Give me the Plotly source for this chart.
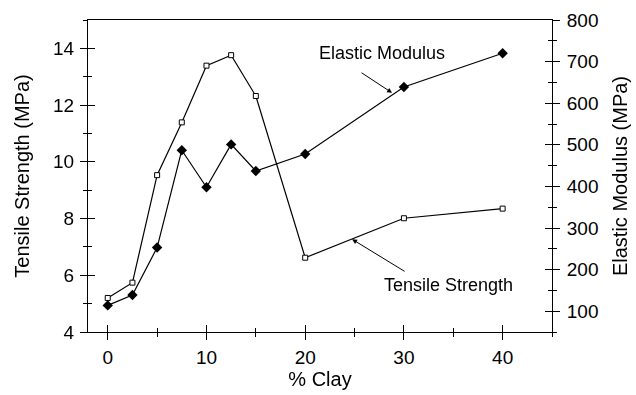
import plotly.graph_objects as go

clay = [0, 2.5, 5, 7.5, 10, 12.5, 15, 20, 30, 40]
tensile_strength = [5.2, 5.74, 9.53, 11.39, 13.39, 13.76, 12.32, 6.62, 8.01, 8.35]
elastic_modulus = [114, 139, 253, 487, 398, 501, 437, 478, 639, 720]

x_range = [-2, 45]
ts_range = [4, 15]
em_range = [50, 800]

FONT = "Liberation Sans, Arial, Helvetica, sans-serif"

fig = go.Figure()

fig.add_trace(go.Scatter(
    x=clay, y=tensile_strength, mode="lines+markers", name="Tensile Strength",
    line=dict(color="black", width=1.2),
    marker=dict(symbol="square", size=5, color="white", line=dict(color="black", width=1)),
    xaxis="x", yaxis="y", showlegend=False))

fig.add_trace(go.Scatter(
    x=clay, y=elastic_modulus, mode="lines+markers", name="Elastic Modulus",
    line=dict(color="black", width=1.2),
    marker=dict(symbol="diamond", size=8, color="black"),
    xaxis="x", yaxis="y2", showlegend=False))

# invisible helper traces so the overlay (inside-tick) axes are drawn
fig.add_trace(go.Scatter(x=clay, y=tensile_strength, mode="markers", opacity=0,
                         hoverinfo="skip", showlegend=False, xaxis="x3", yaxis="y3"))
fig.add_trace(go.Scatter(x=clay, y=elastic_modulus, mode="markers", opacity=0,
                         hoverinfo="skip", showlegend=False, xaxis="x", yaxis="y4"))

tickfont = dict(family=FONT, size=19, color="black")
titlefont = dict(family=FONT, size=20, color="black")

fig.update_layout(
    width=636, height=395,
    margin=dict(l=88, r=84, t=20, b=63, autoexpand=False),
    paper_bgcolor="white", plot_bgcolor="white",
    xaxis=dict(range=x_range, tick0=0, dtick=10, ticks="outside", ticklen=7, tickwidth=1,
               tickcolor="black", showline=True, linecolor="black", linewidth=1, mirror=True,
               showgrid=False, zeroline=False, tickfont=tickfont, ticklabelstandoff=1,
               minor=dict(ticks="outside", ticklen=4, tickwidth=1, tickcolor="black", dtick=5, tick0=0, showgrid=False),
               title=dict(text="% Clay", font=titlefont, standoff=3), automargin=False),
    xaxis3=dict(range=x_range, overlaying="x", anchor="y", side="bottom", tick0=0, dtick=10,
                ticks="inside", ticklen=7, tickwidth=1, tickcolor="black", showticklabels=False,
                showline=False, showgrid=False, zeroline=False,
                minor=dict(ticks="inside", ticklen=4, tickwidth=1, tickcolor="black", dtick=5, tick0=0, showgrid=False)),
    yaxis=dict(range=ts_range, tick0=4, dtick=2, ticks="outside", ticklen=7, tickwidth=1,
               tickcolor="black", showline=True, linecolor="black", linewidth=1,
               showgrid=False, zeroline=False, tickfont=tickfont, ticklabelstandoff=2,
               minor=dict(ticks="outside", ticklen=4, tickwidth=1, tickcolor="black", dtick=1, tick0=4, showgrid=False),
               title=dict(text="Tensile Strength (MPa)", font=titlefont, standoff=18), automargin=False),
    yaxis3=dict(range=ts_range, overlaying="y", anchor="x", side="left", tick0=4, dtick=2,
                ticks="inside", ticklen=7, tickwidth=1, tickcolor="black", showticklabels=False,
                showline=False, showgrid=False, zeroline=False,
                minor=dict(ticks="inside", ticklen=4, tickwidth=1, tickcolor="black", dtick=1, tick0=4, showgrid=False)),
    yaxis2=dict(range=em_range, overlaying="y", anchor="x", side="right", tick0=100, dtick=100,
                ticks="outside", ticklen=7, tickwidth=1, tickcolor="black", showline=True,
                linecolor="black", linewidth=1, showgrid=False, zeroline=False, tickfont=tickfont,
                ticklabelstandoff=3,
                minor=dict(ticks="outside", ticklen=4, tickwidth=1, tickcolor="black", dtick=50, tick0=50, showgrid=False),
                title=dict(text="Elastic Modulus (MPa)", font=titlefont, standoff=15), automargin=False),
    yaxis4=dict(range=em_range, overlaying="y", anchor="x", side="right", tick0=100, dtick=100,
                ticks="inside", ticklen=7, tickwidth=1, tickcolor="black", showticklabels=False,
                showline=False, showgrid=False, zeroline=False,
                minor=dict(ticks="inside", ticklen=4, tickwidth=1, tickcolor="black", dtick=50, tick0=50, showgrid=False)),
)

annfont = dict(family=FONT, size=18, color="black")
fig.add_annotation(x=27.8, y=720, xref="x", yref="y2", text="Elastic Modulus",
                   showarrow=False, font=annfont)
fig.add_annotation(x=28.8, y=625, xref="x", yref="y2", text="", showarrow=True,
                   ax=-32, ay=-21, arrowhead=2, arrowsize=1, arrowwidth=1, arrowcolor="black")
fig.add_annotation(x=34.5, y=5.65, xref="x", yref="y", text="Tensile Strength",
                   showarrow=False, font=annfont)
fig.add_annotation(x=24.75, y=7.27, xref="x", yref="y", text="", showarrow=True,
                   ax=54, ay=33, arrowhead=2, arrowsize=1, arrowwidth=1, arrowcolor="black")

fig.write_html("out.html")
